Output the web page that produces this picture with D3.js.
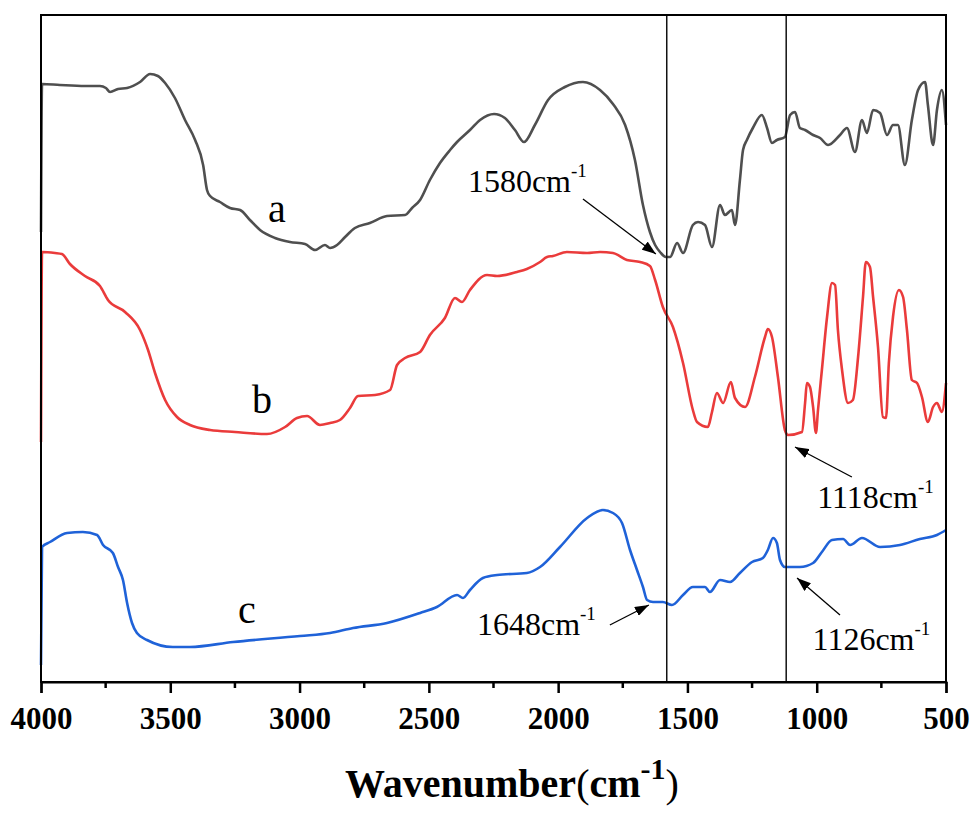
<!DOCTYPE html>
<html>
<head>
<meta charset="utf-8">
<script src="https://cdn.jsdelivr.net/npm/d3@7"></script>
<style>
  body { margin: 0; background: #fff; }
  svg text { font-family: "Liberation Serif", "Times New Roman", serif; }
  .tick text { font-weight: bold; font-size: 31px; }
</style>
</head>
<body>
<div id="chart"></div>
<script>
// 波数刻度
const tickLabels = [4000, 3500, 3000, 2500, 2000, 1500, 1000, 500]
const minorTicks = [3750, 3250, 2750, 2250, 1750, 1250, 750]

// 三条红外光谱曲线 [wavenumber, 透过率(a.u.)]
const seriesA = [[4000,450],[3996,598],[3927,597],[3830,596],[3772,596],[3749,594],[3733,590],[3702,593],[3667,594],[3617,600],[3578,608],[3548,606],[3520,599],[3482,584],[3443,562],[3404,542],[3373,517],[3358,492],[3346,486],[3308,480],[3269,474],[3230,472],[3192,462],[3153,452],[3095,444],[3037,440],[2979,438],[2940,432],[2902,437],[2882,434],[2855,437],[2824,445],[2786,454],[2728,459],[2662,466],[2592,467],[2565,474],[2534,482],[2496,502],[2457,519],[2418,532],[2391,540],[2341,552],[2302,562],[2248,568],[2206,564],[2167,552],[2132,540],[2090,557],[2039,582],[1974,595],[1904,600],[1838,592],[1788,578],[1741,557],[1703,522],[1672,477],[1645,450],[1625,437],[1606,430],[1583,425],[1567,425],[1540,439],[1517,429],[1479,457],[1459,460],[1432,457],[1405,435],[1374,477],[1355,467],[1328,472],[1316,457],[1297,502],[1285,532],[1270,542],[1247,554],[1212,567],[1192,554],[1173,539],[1154,542],[1123,545],[1103,567],[1084,570],[1065,554],[1045,552],[1014,547],[987,544],[956,537],[910,547],[883,554],[852,530],[825,562],[806,549],[782,572],[755,569],[728,547],[705,557],[686,557],[659,517],[632,562],[608,592],[581,600],[570,577],[550,537],[535,572],[516,592],[500,557]]

const seriesB = [[4000,240],[3996,430],[3946,429],[3919,428],[3888,418],[3830,406],[3772,396],[3741,382],[3675,370],[3617,352],[3586,332],[3559,309],[3520,282],[3474,265],[3424,257],[3346,252],[3250,250],[3126,248],[3056,255],[3010,264],[2971,266],[2921,257],[2882,259],[2844,262],[2805,274],[2774,286],[2708,287],[2650,292],[2623,317],[2592,324],[2534,330],[2496,347],[2438,364],[2399,384],[2372,380],[2341,392],[2275,407],[2236,406],[2159,410],[2121,413],[2070,420],[2043,425],[2020,426],[1966,430],[1888,429],[1838,430],[1788,429],[1734,422],[1683,420],[1645,416],[1625,402],[1595,375],[1556,355],[1517,319],[1479,272],[1463,260],[1421,255],[1405,270],[1386,289],[1362,279],[1332,300],[1316,284],[1277,275],[1239,305],[1200,345],[1189,353],[1173,345],[1150,305],[1123,252],[1111,247],[1057,250],[1045,279],[1038,299],[1026,295],[1014,275],[1003,249],[995,272],[980,312],[960,365],[941,399],[929,397],[918,352],[902,312],[879,279],[860,282],[840,325],[821,385],[810,420],[794,415],[782,385],[763,335],[744,265],[732,264],[721,319],[705,365],[682,392],[666,385],[651,352],[632,302],[612,299],[593,285],[570,260],[550,275],[535,279],[516,270],[500,299]]

const seriesC = [[4000,17],[3996,135],[3965,140],[3899,149],[3838,150],[3783,147],[3760,137],[3722,129],[3702,115],[3683,102],[3667,79],[3648,59],[3629,49],[3590,42],[3490,35],[3424,35],[3257,40],[2998,46],[2882,49],[2793,54],[2662,59],[2534,69],[2469,75],[2391,87],[2368,84],[2341,92],[2291,104],[2236,107],[2121,109],[2070,115],[1993,135],[1888,164],[1827,172],[1788,169],[1753,159],[1722,132],[1695,112],[1672,95],[1656,82],[1633,80],[1595,80],[1560,77],[1517,87],[1479,95],[1432,95],[1413,90],[1374,102],[1335,100],[1297,109],[1250,120],[1208,124],[1189,132],[1169,144],[1154,139],[1142,122],[1123,115],[1065,115],[1014,119],[980,130],[941,142],[898,143],[871,137],[825,144],[755,135],[678,137],[601,143],[535,147],[500,152]]

const markLines = [1580, 1118]

// 标注: 文字位置(波数, 值) 与箭头起止
const notes = [
  {text: "1580", x: 2349, y: 490, from: [1904, 483], to: [1622, 428]},
  {text: "1118", x: 998, y: 174, from: [864, 205], to: [1084, 235]},
  {text: "1648", x: 2314, y: 47, from: [1800, 57], to: [1649, 77]},
  {text: "1126", x: 1016, y: 32, from: [910, 67], to: [1076, 104]}
]
const curveLabels = [
  {text: "a", x: 3122, y: 460},
  {text: "b", x: 3184, y: 269},
  {text: "c", x: 3238, y: 59}
]

const width = 974, height = 814
const margin = {left: 41, right: 28, top: 15, bottom: 132}

const svg = d3.select("#chart").append("svg")
    .attr("width", width)
    .attr("height", height)

const x = d3.scaleLinear()
    .domain([4000, 500])
    .range([margin.left, width - margin.right])
const y = d3.scaleLinear()
    .domain([0, 667])
    .range([height - margin.bottom, margin.top])

// 箭头
svg.append("defs").append("marker")
    .attr("id", "arrow")
    .attr("viewBox", "0 0 14 10")
    .attr("refX", 14)
    .attr("refY", 5)
    .attr("markerWidth", 14)
    .attr("markerHeight", 10)
    .attr("markerUnits", "userSpaceOnUse")
    .attr("orient", "auto")
    .append("path")
    .attr("d", "M0,0 L14,5 L0,10 Z")
    .attr("fill", "#000")

// 曲线
const line = d3.line()
    .x(d => x(d[0]))
    .y(d => y(d[1]))
    .curve(d3.curveMonotoneX)

const series = [
  {data: seriesA, color: "#4f4f4f"},
  {data: seriesB, color: "#ea3b3b"},
  {data: seriesC, color: "#1f62d8"}
]
svg.append("g")
    .selectAll("path")
    .data(series)
    .enter()
    .append("path")
    .attr("d", d => line(d.data))
    .attr("fill", "none")
    .attr("stroke", d => d.color)
    .attr("stroke-width", 2.6)
    .attr("stroke-linejoin", "round")

// 竖直参考线
svg.append("g")
    .selectAll("line")
    .data(markLines)
    .enter()
    .append("line")
    .attr("x1", d => x(d))
    .attr("x2", d => x(d))
    .attr("y1", y(667))
    .attr("y2", y(0))
    .attr("stroke", "#111")
    .attr("stroke-width", 1.5)

// 边框
svg.append("rect")
    .attr("x", x(4000))
    .attr("y", y(667))
    .attr("width", x(500) - x(4000))
    .attr("height", y(0) - y(667))
    .attr("fill", "none")
    .attr("stroke", "#000")
    .attr("stroke-width", 2)

// x轴
const xAxis = svg.append("g")
    .attr("transform", `translate(0,${y(0)})`)
    .call(d3.axisBottom(x)
        .tickValues(tickLabels)
        .tickSize(11)
        .tickPadding(8)
        .tickFormat(d3.format("d")))
xAxis.select(".domain").attr("stroke-width", 2)
xAxis.selectAll(".tick line").attr("stroke-width", 2.5)
xAxis.selectAll(".tick text").attr("fill", "#000").attr("dy", "0.9em")

svg.append("g")
    .selectAll("line")
    .data(minorTicks)
    .enter()
    .append("line")
    .attr("x1", d => x(d))
    .attr("x2", d => x(d))
    .attr("y1", y(0))
    .attr("y2", y(0) + 6)
    .attr("stroke", "#000")
    .attr("stroke-width", 2.5)

// 轴标题
const title = svg.append("text")
    .attr("x", 345)
    .attr("y", 797)
    .attr("font-size", 40)
    .attr("font-weight", "bold")
title.append("tspan").text("Wavenumber")
title.append("tspan").attr("font-weight", "normal").text("(")
title.append("tspan").text("cm")
title.append("tspan").attr("font-size", 30).attr("dy", -18).text("-1")
title.append("tspan").attr("font-weight", "normal").attr("dy", 18).text(")")

// 曲线标签
svg.append("g")
    .selectAll("text")
    .data(curveLabels)
    .enter()
    .append("text")
    .attr("x", d => x(d.x))
    .attr("y", d => y(d.y))
    .attr("font-size", 40)
    .text(d => d.text)

// 峰位标注
const noteG = svg.append("g")
noteG.selectAll("line")
    .data(notes)
    .enter()
    .append("line")
    .attr("x1", d => x(d.from[0]))
    .attr("y1", d => y(d.from[1]))
    .attr("x2", d => x(d.to[0]))
    .attr("y2", d => y(d.to[1]))
    .attr("stroke", "#000")
    .attr("stroke-width", 1.3)
    .attr("marker-end", "url(#arrow)")

const noteText = noteG.selectAll("text")
    .data(notes)
    .enter()
    .append("text")
    .attr("x", d => x(d.x))
    .attr("y", d => y(d.y))
    .attr("font-size", 32)
noteText.append("tspan").text(d => d.text + "cm")
noteText.append("tspan").attr("font-size", 19).attr("dy", -15).text("-1")
</script>
</body>
</html>
